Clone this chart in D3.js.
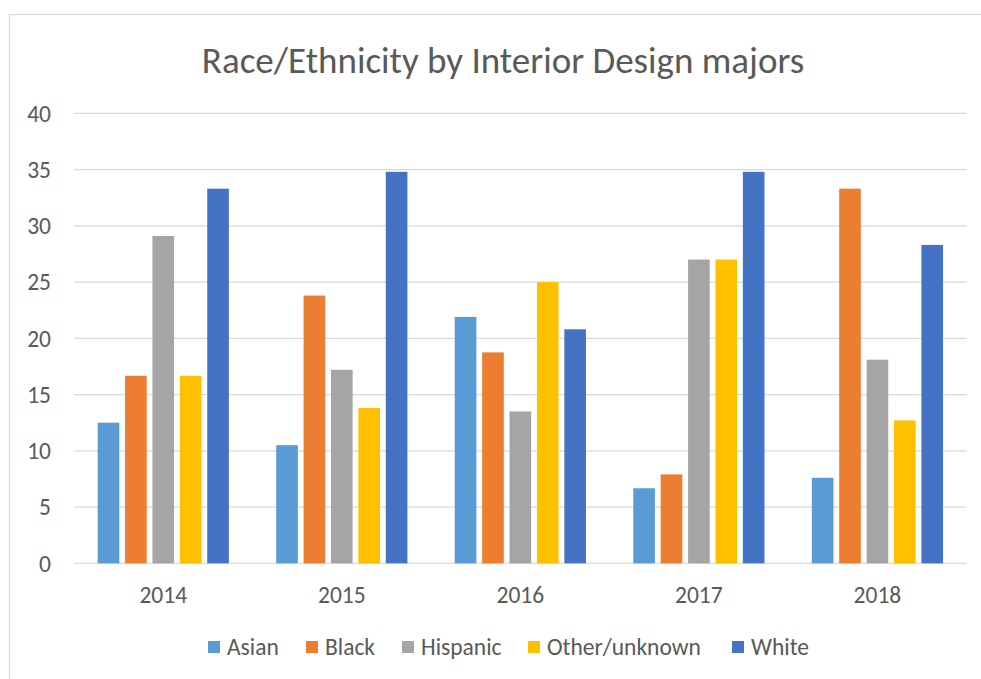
<!DOCTYPE html>
<html>
<head>
<meta charset="utf-8">
<script src="https://cdn.jsdelivr.net/npm/d3@7"></script>
<style>
  html, body { margin: 0; padding: 0; background: #fff; }
  svg { display: block; font-family: Calibri, Carlito, Lato, sans-serif; }
</style>
</head>
<body>
<svg id="chart" width="981" height="679"></svg>
<script>
// data
var years = ['2014', '2015', '2016', '2017', '2018'];
var groups = ['Asian', 'Black', 'Hispanic', 'Other/unknown', 'White'];
var asian    = [12.5, 10.5, 21.9, 6.67, 7.6];
var black    = [16.67, 23.8, 18.75, 7.9, 33.3];
var hispanic = [29.1, 17.2, 13.5, 27.0, 18.1];
var other    = [16.67, 13.8, 25.0, 27.0, 12.7];
var white    = [33.3, 34.8, 20.8, 34.8, 28.3];
var yTicks = [0, 5, 10, 15, 20, 25, 30, 35, 40];
var colors = ['#5B9BD5', '#ED7D31', '#A5A5A5', '#FFC000', '#4472C4'];

var series = [asian, black, hispanic, other, white];
var rows = years.map(function(yr, i){
    return {year: yr, values: series.map(function(s, j){ return {key: groups[j], value: s[i]}; })};
});

var svg = d3.select('#chart');

// chart frame (runs off the right and bottom of the picture)
svg.append('rect')
    .attr('x', 9.5).attr('y', 14.5)
    .attr('width', 1000).attr('height', 700)
    .style('fill', 'none')
    .style('stroke', '#D9D9D9')
    .style('stroke-width', 1.3);

var plotLeft = 74, plotRight = 966.7, plotTop = 113.3, plotBottom = 563.3;
var labelSize = '23.5px';

var x0 = d3.scaleBand().domain(years).range([plotLeft, plotRight])
    .paddingInner(0.265).paddingOuter(0.1325);
var x1 = d3.scaleBand().domain(groups).range([0, x0.bandwidth()])
    .paddingInner(0.21).paddingOuter(0);
var y = d3.scaleLinear().domain([0, 40]).range([plotBottom, plotTop]);

// gridlines
svg.append('g').selectAll('line')
    .data(yTicks)
    .enter().append('line')
    .attr('x1', plotLeft).attr('x2', plotRight)
    .attr('y1', function(d){ return y(d); })
    .attr('y2', function(d){ return y(d); })
    .style('stroke', '#D9D9D9')
    .style('stroke-width', 1.3);

// y tick labels
svg.append('g').selectAll('text')
    .data(yTicks)
    .enter().append('text')
    .attr('x', 51)
    .attr('y', function(d){ return y(d); })
    .attr('dy', '0.35em')
    .attr('text-anchor', 'end')
    .style('fill', '#595959')
    .style('font-size', labelSize)
    .text(function(d){ return d; });

// bars
var g = svg.append('g').selectAll('g')
    .data(rows)
    .enter().append('g')
    .attr('transform', function(d){ return 'translate(' + x0(d.year) + ',0)'; });

g.selectAll('rect')
    .data(function(d){ return d.values; })
    .enter().append('rect')
    .attr('x', function(d){ return x1(d.key); })
    .attr('y', function(d){ return y(d.value); })
    .attr('width', x1.bandwidth())
    .attr('height', function(d){ return plotBottom - y(d.value); })
    .style('fill', function(d, i){ return colors[i]; });

// x axis labels
svg.append('g').selectAll('text')
    .data(years)
    .enter().append('text')
    .attr('x', function(d){ return x0(d) + x0.bandwidth() / 2; })
    .attr('y', 595)
    .attr('dy', '0.35em')
    .attr('text-anchor', 'middle')
    .style('fill', '#595959')
    .style('font-size', labelSize)
    .text(function(d){ return d; });

// title
svg.append('text')
    .attr('x', 503).attr('y', 60)
    .attr('dy', '0.35em')
    .attr('text-anchor', 'middle')
    .style('fill', '#595959')
    .style('font-size', '37px')
    .text('Race/Ethnicity by Interior Design majors');

// legend
var legendX = [208, 306, 402, 528, 732];
var lg = svg.append('g').selectAll('g')
    .data(groups)
    .enter().append('g')
    .attr('transform', function(d, i){ return 'translate(' + legendX[i] + ',647)'; });

lg.append('rect')
    .attr('x', 0).attr('y', -6)
    .attr('width', 12).attr('height', 12)
    .style('fill', function(d, i){ return colors[i]; });

lg.append('text')
    .attr('x', 19).attr('y', 0)
    .attr('dy', '0.35em')
    .style('fill', '#595959')
    .style('font-size', labelSize)
    .text(function(d){ return d; });
</script>
</body>
</html>
